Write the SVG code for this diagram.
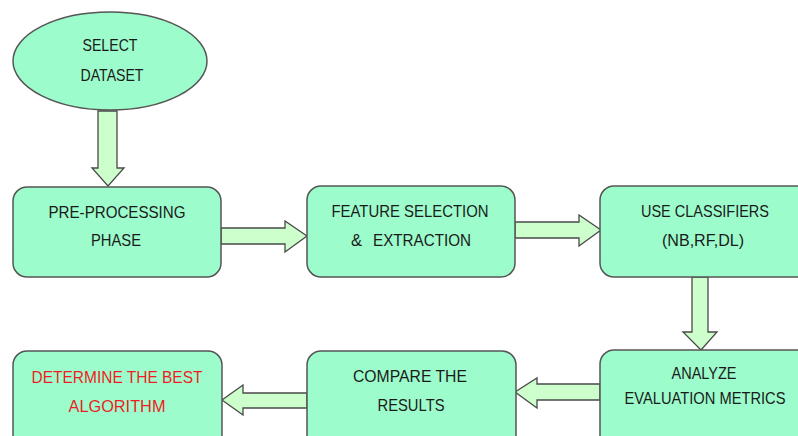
<svg xmlns="http://www.w3.org/2000/svg" width="798" height="436" viewBox="0 0 798 436">
  <style>
    .node { fill: #9cfccb; stroke: #555555; stroke-width: 1.5; }
    .arrow { fill: #ccffcc; stroke: #4a4a4a; stroke-width: 1.3; stroke-linejoin: miter; }
    .label { font-family: "Liberation Sans", Arial, sans-serif; font-size: 16.5px; fill: #1a1a1a; text-anchor: middle; }
    .label.start { text-anchor: start; }
    .label.red { fill: #ee1c25; }
  </style>
  <rect width="798" height="436" fill="#ffffff"/>

  <!-- block arrows between steps -->
  <g id="connectors">
    <!-- dataset -> pre-processing -->
    <polygon class="arrow" points="98,111 117,111 117,168 124,168 108,186 92,168 98,168"/>
    <!-- pre-processing -> feature selection -->
    <polygon class="arrow" points="221,228 285,228 285,221 307,236 285,252 285,244 221,244"/>
    <!-- feature selection -> classifiers -->
    <polygon class="arrow" points="515,222 579,222 579,215 601,230 579,246 579,238 515,238"/>
    <!-- classifiers -> analyze -->
    <polygon class="arrow" points="692,277 708,277 708,332 717,332 701,350 683,332 692,332"/>
    <!-- analyze -> compare -->
    <polygon class="arrow" points="600,384 537,384 537,378 515,392 537,408 537,400 600,400"/>
    <!-- compare -> determine -->
    <polygon class="arrow" points="307,393 243,393 243,385 222,400 243,415 243,408 307,408"/>
  </g>

  <g id="select-dataset">
    <ellipse class="node" cx="110" cy="61" rx="97" ry="49"/>
    <text class="label" x="110" y="51" textLength="55" lengthAdjust="spacingAndGlyphs">SELECT</text>
    <text class="label" x="112" y="81" textLength="63" lengthAdjust="spacingAndGlyphs">DATASET</text>
  </g>

  <g id="pre-processing">
    <rect class="node" x="13" y="187" width="208" height="90" rx="14"/>
    <text class="label" x="117" y="218" textLength="137" lengthAdjust="spacingAndGlyphs">PRE-PROCESSING</text>
    <text class="label" x="116" y="246" textLength="50" lengthAdjust="spacingAndGlyphs">PHASE</text>
  </g>

  <g id="feature-selection">
    <rect class="node" x="307" y="186" width="208" height="91" rx="14"/>
    <text class="label" x="410" y="217" textLength="157" lengthAdjust="spacingAndGlyphs">FEATURE SELECTION</text>
    <text class="label start" x="351" y="246">&amp;</text>
    <text class="label start" x="373" y="246" textLength="98" lengthAdjust="spacingAndGlyphs">EXTRACTION</text>
  </g>

  <g id="use-classifiers">
    <rect class="node" x="600" y="186" width="230" height="91" rx="14"/>
    <text class="label" x="705" y="217" textLength="128" lengthAdjust="spacingAndGlyphs">USE CLASSIFIERS</text>
    <text class="label" x="703" y="246" textLength="82" lengthAdjust="spacingAndGlyphs">(NB,RF,DL)</text>
  </g>

  <g id="analyze-metrics">
    <rect class="node" x="600" y="350" width="230" height="100" rx="14"/>
    <text class="label" x="704" y="379" textLength="65" lengthAdjust="spacingAndGlyphs">ANALYZE</text>
    <text class="label" x="705" y="404" textLength="161" lengthAdjust="spacingAndGlyphs">EVALUATION METRICS</text>
  </g>

  <g id="compare-results">
    <rect class="node" x="307" y="351" width="209" height="100" rx="14"/>
    <text class="label" x="410" y="382" textLength="114" lengthAdjust="spacingAndGlyphs">COMPARE THE</text>
    <text class="label" x="411" y="411" textLength="67" lengthAdjust="spacingAndGlyphs">RESULTS</text>
  </g>

  <g id="determine-best">
    <rect class="node" x="13" y="351" width="209" height="100" rx="14"/>
    <text class="label red" x="117" y="383" textLength="171" lengthAdjust="spacingAndGlyphs">DETERMINE THE BEST</text>
    <text class="label red" x="117" y="412" textLength="97" lengthAdjust="spacingAndGlyphs">ALGORITHM</text>
  </g>
</svg>
